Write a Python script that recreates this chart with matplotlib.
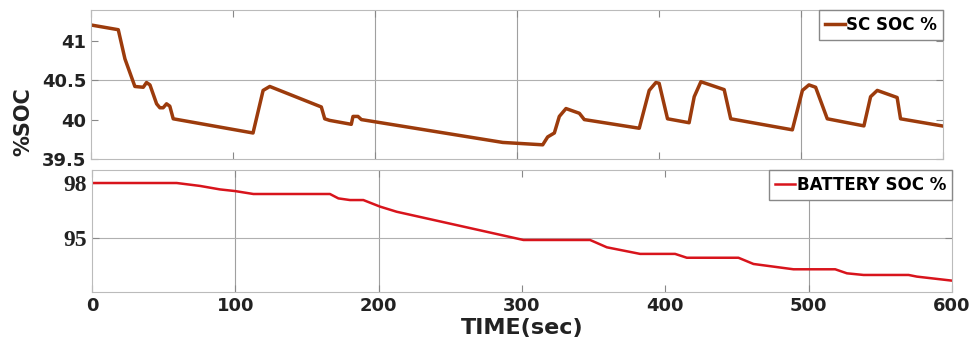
import matplotlib.pyplot as plt

# SC state of charge (top panel)
sc_time = [0, 19.2, 23.9, 26.3, 30.9, 36.8, 39.1, 41.5, 46.2, 48.5, 50.8, 53.2, 55.5, 57.9,
           114.1, 121.2, 125.9, 162.2, 164.6, 168, 183.3, 184.5, 188.0, 190.4, 290, 318.1,
           321.6, 326.3, 329.8, 334.5, 343.9, 347.4, 386.1, 393.1, 397.8, 400.1, 406, 421.2,
           424.8, 429.5, 445.9, 450.5, 493.9, 501, 505.6, 510.3, 518.5, 544.3, 549, 553.7,
           567.7, 570.1, 599.3]
sc_soc = [41.20, 41.14, 40.77, 40.65, 40.42, 40.41, 40.47, 40.44, 40.20, 40.15, 40.15, 40.20,
          40.17, 40.01, 39.83, 40.37, 40.42, 40.16, 40.01, 39.99, 39.94, 40.04, 40.04, 40.00,
          39.71, 39.68, 39.78, 39.83, 40.04, 40.14, 40.08, 40.00, 39.89, 40.37, 40.47, 40.46,
          40.01, 39.96, 40.29, 40.48, 40.38, 40.01, 39.87, 40.37, 40.44, 40.41, 40.01, 39.92,
          40.29, 40.37, 40.28, 40.01, 39.92]

# battery state of charge (bottom panel)
bat_time = [0, 59.1, 75.4, 89.3, 99.8, 112.6, 166, 171.9, 180, 189.3, 201, 212.6, 301, 347.5,
            359.2, 382.4, 396.4, 406.8, 415, 451, 461.5, 489.4, 518.5, 526.7, 538.3, 569.7,
            575.5, 600]
bat_soc = [98.0, 98.0, 97.84, 97.65, 97.56, 97.4, 97.4, 97.16, 97.07, 97.07, 96.71, 96.43,
           94.89, 94.89, 94.49, 94.13, 94.13, 94.13, 93.92, 93.92, 93.58, 93.29, 93.29, 93.07,
           92.98, 92.98, 92.89, 92.67]

x_ticks = [0, 100, 200, 300, 400, 500, 600]
sc_ticks = [39.5, 40, 40.5, 41]
sc_labels = ['39.5', '40', '40.5', '41']
bat_ticks = [95, 98]

# grid lines that show up in the (scanned) original
sc_vgrid = [200, 300, 500]
sc_hgrid = [40.5]
bat_vgrid = [100, 200, 500]
bat_hgrid = [95]

fig = plt.figure(figsize=(9.75, 3.49), dpi=100)
ax1 = fig.add_axes([91/975, 1-159/349, 852/975, 149/349])
ax2 = fig.add_axes([92/975, 1-292/349, 860/975, 122/349])

for ax, vg, hg in ((ax1, sc_vgrid, sc_hgrid), (ax2, bat_vgrid, bat_hgrid)):
    for v in vg:
        ax.axvline(v, color='#a0a0a0', lw=0.8, zorder=0)
    for h in hg:
        ax.axhline(h, color='#b0b0b0', lw=0.8, zorder=0)

ax1.plot(sc_time, sc_soc, color='#9c3b0c', lw=2.5, label='SC SOC %')
ax2.plot(bat_time, bat_soc, color='#d8141c', lw=1.8, label='BATTERY SOC %')

for ax in (ax1, ax2):
    ax.set_xlim(0, 600)
    ax.set_xticks(x_ticks)
    ax.tick_params(direction='in', length=5, color='#888888', top=True, right=True)
    for s in ax.spines.values():
        s.set_color('#bbbbbb')
    leg = ax.legend(loc='upper right', borderaxespad=0, fancybox=False, handlelength=1.2,
                    handletextpad=0.1, borderpad=0.35,
                    prop={'weight': 'bold', 'size': 12})
    leg.get_frame().set_edgecolor('#888888')
    leg.get_frame().set_alpha(1)

ax1.set_ylim(39.5, 41.39)
ax1.set_yticks(sc_ticks)
ax1.set_yticklabels(sc_labels, fontsize=13, fontweight='bold', color='#222222')
ax1.set_xticklabels([])

ax2.set_ylim(92.05, 98.71)
ax2.set_yticks(bat_ticks)
ax2.set_yticklabels([str(t) for t in bat_ticks], fontsize=17, fontweight='bold',
                    family='Liberation Serif', color='#222222')
ax2.set_xticklabels([str(t) for t in x_ticks], fontsize=13, fontweight='bold', color='#222222')
ax2.set_xlabel('TIME(sec)', fontsize=16, fontweight='bold', color='#222222', labelpad=2)

fig.text(23/975, 1-122/349, '%SOC', rotation=90, ha='center', va='center',
         fontsize=15, fontweight='bold', color='#222222')

plt.savefig('out.png', dpi=100)
